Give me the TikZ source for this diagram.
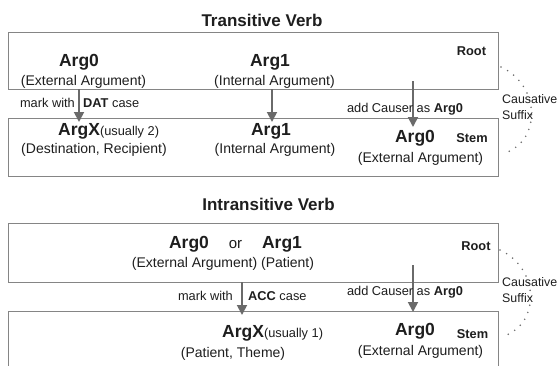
\documentclass[tikz,border=0pt]{standalone}
\usepackage{fontspec}
\setmainfont{Liberation Sans}
\usetikzlibrary{arrows.meta}
\definecolor{boxgray}{HTML}{858585}
\definecolor{arrgray}{HTML}{6A6A6A}
\definecolor{txtgray}{HTML}{1E1E1E}
\newcommand{\argfont}{\fontsize{17.5}{19}\selectfont\bfseries}
\newcommand{\descfont}{\fontsize{14}{16}\selectfont}
\newcommand{\smallfont}{\fontsize{12.8}{14}\selectfont}
\begin{document}
\begin{tikzpicture}[x=1pt, y=-1pt,
  argnode/.style={anchor=base, inner sep=0pt, text=txtgray, font=\argfont},
  descnode/.style={anchor=base, inner sep=0pt, text=txtgray, font=\descfont},
  lblnode/.style={anchor=base, inner sep=0pt, text=txtgray, font=\smallfont},
  titlenode/.style={anchor=base, inner sep=0pt, text=txtgray, font=\fontsize{17}{19}\selectfont\bfseries},
  levelbox/.style={draw=boxgray, line width=0.9pt},
  deriv/.style={draw=arrgray, line width=1.8pt, -{Triangle[width=10pt,length=10pt]}},
  suffixarc/.style={draw=arrgray, line width=1.7pt, line cap=round, dash pattern=on 0pt off 7.5pt}]
\clip (0,0) rectangle (558,365);
\fill[white] (0,0) rectangle (558,365);

% transitive verb
\node[titlenode] (ttitle) at (262,26) {Transitive Verb};
\draw[levelbox] (8,32) rectangle (498,89);
\draw[levelbox] (8,118) rectangle (498,176);

\node[argnode] (tr0) at (79,66) {Arg0};
\node[descnode] (tr0d) at (83.5,85) {(External Argument)};
\node[argnode] (tr1) at (270,66) {Arg1};
\node[descnode] (tr1d) at (274.5,85) {(Internal Argument)};
\node[lblnode, font=\smallfont\bfseries] (troot) at (471.5,55) {Root};

\node[argnode, anchor=base west] (tsx) at (58,135) {ArgX{\smallfont\mdseries(usually 2)}};
\node[descnode] (tsxd) at (94,153) {(Destination, Recipient)};
\node[argnode] (ts1) at (271,135) {Arg1};
\node[descnode] (ts1d) at (275,153) {(Internal Argument)};
\node[argnode] (ts0) at (415,142) {Arg0};
\node[descnode] (ts0d) at (420.5,162) {(External Argument)};
\node[lblnode, font=\smallfont\bfseries] (tstem) at (472,142) {Stem};

\coordinate (ta0) at (79,89);   \coordinate (tb0) at (79,122);
\coordinate (ta1) at (272,89);  \coordinate (tb1) at (272,122);
\coordinate (ta2) at (413,81);  \coordinate (tb2) at (413,127);
\draw[deriv] (ta0) -- (tb0);
\draw[deriv] (ta1) -- (tb1);
\draw[deriv] (ta2) -- (tb2);
\node[lblnode, anchor=base east] (tmark) at (75,107) {mark with};
\node[lblnode, anchor=base west] (tdat) at (83,107) {\textbf{DAT} case};
\node[lblnode] (tcaus) at (405,112) {add Causer as \textbf{Arg0}};

\coordinate (tsa) at (501,67); \coordinate (tsb) at (505,153);
\draw[suffixarc] (tsa) .. controls (540,85) and (542,140) .. (tsb);
\node[lblnode, anchor=base west, font=\fontsize{12.4}{14}\selectfont] (tsuf1) at (502,103) {Causative};
\node[lblnode, anchor=base west, font=\fontsize{12.4}{14}\selectfont] (tsuf2) at (502,119) {Suffix};

% intransitive verb
\node[titlenode] (ititle) at (268.5,210) {Intransitive Verb};
\draw[levelbox] (8,223) rectangle (498,282);
\draw[levelbox] (8,371) -- (8,311) -- (498,311) -- (498,371);

\node[argnode] (ir0) at (189,248) {Arg0};
\node[descnode, font=\fontsize{15}{16}\selectfont] (ior) at (235.5,248) {or};
\node[argnode] (ir1) at (282,248) {Arg1};
\node[descnode] (ird) at (223,267) {(External Argument) (Patient)};
\node[lblnode, font=\smallfont\bfseries] (iroot) at (476,250) {Root};

\node[argnode, anchor=base west] (isx) at (222,337) {ArgX{\smallfont\mdseries(usually 1)}};
\node[descnode] (isxd) at (233,357) {(Patient, Theme)};
\node[argnode] (is0) at (415,335) {Arg0};
\node[descnode] (is0d) at (420.5,355) {(External Argument)};
\node[lblnode, font=\smallfont\bfseries] (istem) at (472.5,338) {Stem};

\coordinate (ia0) at (242,282); \coordinate (ib0) at (242,315);
\coordinate (ia1) at (413,265); \coordinate (ib1) at (413,312);
\draw[deriv] (ia0) -- (ib0);
\draw[deriv] (ia1) -- (ib1);
\node[lblnode, anchor=base east] (imark) at (233,300) {mark with};
\node[lblnode, anchor=base west] (iacc) at (248,300) {\textbf{ACC} case};
\node[lblnode] (icaus) at (405,295) {add Causer as \textbf{Arg0}};

\coordinate (isa) at (500,250); \coordinate (isb) at (504,336);
\draw[suffixarc] (isa) .. controls (539,268) and (541,323) .. (isb);
\node[lblnode, anchor=base west, font=\fontsize{12.4}{14}\selectfont] (isuf1) at (502,286) {Causative};
\node[lblnode, anchor=base west, font=\fontsize{12.4}{14}\selectfont] (isuf2) at (502,302) {Suffix};
\end{tikzpicture}
\end{document}
